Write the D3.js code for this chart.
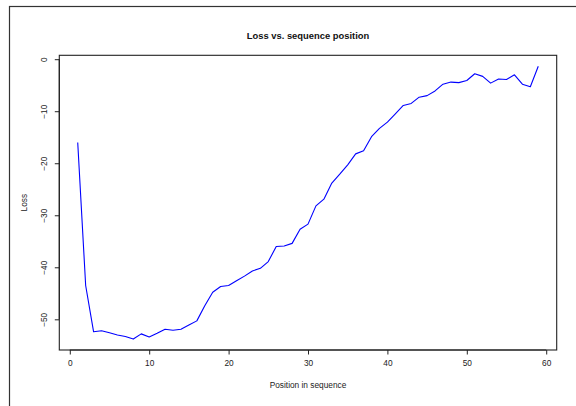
<!DOCTYPE html>
<html>
<head>
<meta charset="utf-8">
<script src="https://cdn.jsdelivr.net/npm/d3@7"></script>
<style>
  html, body { margin: 0; padding: 0; background: #fff; }
  svg { display: block; font-family: "Liberation Sans", Arial, Helvetica, sans-serif; }
</style>
</head>
<body>
<svg id="chart" width="576" height="406"></svg>
<script>
const positions = d3.range(1, 60);
const lossValues = [
  -16.0, -43.5, -52.4, -52.2, -52.6, -53.0, -53.3, -53.8, -52.8, -53.4,
  -52.7, -51.9, -52.1, -51.9, -51.1, -50.3, -47.4, -44.8, -43.7, -43.5,
  -42.6, -41.7, -40.7, -40.2, -38.9, -36.0, -35.9, -35.4, -32.7, -31.7,
  -28.2, -26.9, -23.8, -22.1, -20.3, -18.2, -17.6, -14.9, -13.3, -12.1,
  -10.5, -8.9, -8.5, -7.3, -7.0, -6.1, -4.8, -4.4, -4.5, -4.1,
  -2.8, -3.3, -4.6, -3.8, -3.9, -3.0, -4.8, -5.3, -1.35
];
const xTicks = [0, 10, 20, 30, 40, 50, 60];
const yTicks = [0, -10, -20, -30, -40, -50];
const titleText = "Loss vs. sequence position";
const xLabel = "Position in sequence";
const yLabel = "Loss";

const svg = d3.select("#chart");
const plot = { left: 59.3, right: 556.7, top: 55.3, bottom: 350 };

function rPad(ext) { const d = (ext[1] - ext[0]) * 0.04; return [ext[0] - d, ext[1] + d]; }

const x = d3.scaleLinear().domain(rPad(d3.extent(positions))).range([plot.left, plot.right]);
const y = d3.scaleLinear().domain(rPad(d3.extent(lossValues))).range([plot.bottom, plot.top]);

// outer frame
svg.append("rect").attr("x", 9.5).attr("y", 6.5).attr("width", 700).attr("height", 600)
  .attr("fill", "none").attr("stroke", "#333").attr("stroke-width", 1.2);

// line
const data = positions.map((p, i) => [p, lossValues[i]]);
svg.append("path").datum(data)
  .attr("fill", "none").attr("stroke", "#0000ff").attr("stroke-width", 1.1)
  .attr("stroke-linejoin", "round")
  .attr("d", d3.line().x(d => x(d[0])).y(d => y(d[1])));

// box
svg.append("rect").attr("x", plot.left).attr("y", plot.top)
  .attr("width", plot.right - plot.left).attr("height", plot.bottom - plot.top)
  .attr("fill", "none").attr("stroke", "#222").attr("stroke-width", 1.1);

// x axis
const xAxis = d3.axisBottom(x).tickValues(xTicks).tickSize(4.5).tickPadding(6).tickFormat(d3.format("d"));
const gx = svg.append("g").attr("transform", `translate(0,${plot.bottom})`).call(xAxis);
gx.select(".domain").attr("d", `M${x(0)},0H${x(60)}`).attr("stroke", "#222").attr("stroke-width", 1.1);
gx.selectAll(".tick line").attr("stroke", "#222");
gx.selectAll(".tick text").attr("font-size", 8.3).attr("fill", "#222")
  .attr("font-family", "'Liberation Sans', Arial, sans-serif");

// y axis
const yAxis = d3.axisLeft(y).tickValues(yTicks).tickSize(4.5).tickPadding(0).tickFormat(d => d === 0 ? "0" : "\u2212" + Math.abs(d));
const gy = svg.append("g").attr("transform", `translate(${plot.left},0)`).call(yAxis);
gy.select(".domain").attr("d", `M0,${y(0)}V${y(-50)}`).attr("stroke", "#222").attr("stroke-width", 1.1);
gy.selectAll(".tick line").attr("stroke", "#222");
gy.selectAll(".tick text")
  .attr("font-size", 8.3).attr("fill", "#222")
  .attr("font-family", "'Liberation Sans', Arial, sans-serif")
  .attr("x", 0).attr("dy", null)
  .attr("text-anchor", "middle")
  .attr("transform", "translate(-12.5,0) rotate(-90)");

// title and labels
svg.append("text").attr("x", (plot.left + plot.right) / 2).attr("y", 39)
  .attr("text-anchor", "middle").attr("font-size", 9.4).attr("font-weight", "bold").attr("fill", "#111")
  .text(titleText);
svg.append("text").attr("x", (plot.left + plot.right) / 2).attr("y", 388)
  .attr("text-anchor", "middle").attr("font-size", 8.3).attr("fill", "#222")
  .text(xLabel);
svg.append("text").attr("transform", `translate(27,${(plot.top + plot.bottom) / 2}) rotate(-90)`)
  .attr("text-anchor", "middle").attr("font-size", 8.3).attr("fill", "#222")
  .text(yLabel);
</script>
</body>
</html>
